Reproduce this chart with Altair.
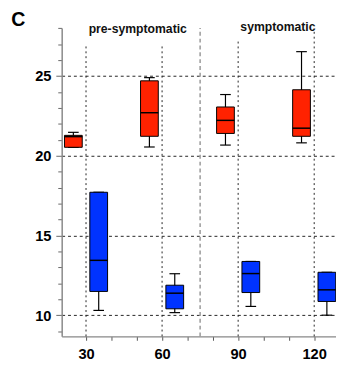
import altair as alt
import pandas as pd

# ---- data ----
days = [30, 60, 90, 120]
series = ["red", "blue"]
offsets = [-5, 5]

red_min = [20.53, 20.55, 20.67, 20.81]
red_q1 = [20.53, 21.22, 21.40, 21.22]
red_med = [21.20, 22.70, 22.22, 21.73]
red_q3 = [21.28, 24.70, 23.06, 24.14]
red_max = [21.47, 24.90, 23.84, 26.53]

blue_min = [10.30, 10.16, 10.55, 10.00]
blue_q1 = [11.49, 10.40, 11.42, 10.86]
blue_med = [13.44, 11.38, 12.61, 11.59]
blue_q3 = [17.71, 11.88, 13.37, 12.69]
blue_max = [17.71, 12.60, 13.37, 12.69]

group_labels = ["pre-symptomatic", "symptomatic"]
group_label_x = [50.4, 105.7]
group_label_y = [27.93, 28.05]
separator_x = [75]
vgrid_x = [30, 60, 90, 120]
vgrid_top = [27.0, 27.0, 27.2, 27.8]

x_domain = [20.4, 128.6]
y_domain = [8.67, 28.02]
x_ticks = [30, 40, 50, 60, 70, 80, 90, 100, 110, 120]
y_ticks = list(range(9, 29))

FONT = "Liberation Sans"
RED = "#FF2200"
BLUE = "#0033FF"

rows = []
for s, off, mn, q1, md, q3, mx in [
    ("red", offsets[0], red_min, red_q1, red_med, red_q3, red_max),
    ("blue", offsets[1], blue_min, blue_q1, blue_med, blue_q3, blue_max),
]:
    for i, d in enumerate(days):
        rows.append(dict(series=s, day=d, off=off, mn=mn[i], q1=q1[i], med=md[i], q3=q3[i], mx=mx[i]))
box_df = pd.DataFrame(rows)

xs = alt.Scale(domain=x_domain, nice=False, zero=False)
ys = alt.Scale(domain=y_domain, nice=False, zero=False)

x_axis = alt.Axis(
    values=x_ticks,
    labelExpr="datum.value % 30 === 0 ? datum.label : ''",
    title=None, grid=False, tickSize=4, tickColor="#555", domainColor="#888", domainWidth=1.5,
    labelFont=FONT, labelFontSize=15, labelFontWeight="bold", labelColor="black",
    labelPadding=7, labelOverlap=False, labelFlush=False,
)
y_axis = alt.Axis(
    values=y_ticks,
    labelExpr="datum.value % 5 === 0 ? datum.label : ''",
    title=None, grid=True,
    gridOpacity={"condition": {"test": "datum.value % 5 === 0", "value": 1}, "value": 0},
    gridDash=[3, 3], gridColor="#222", gridWidth=1,
    tickSize={"condition": {"test": "datum.value % 5 === 0", "value": 6}, "value": 4},
    tickColor="#666", domainColor="#888", domainWidth=1.5,
    labelFont=FONT, labelFontSize=15, labelFontWeight="bold", labelColor="black",
    labelPadding=5, labelOverlap=False,
)


def X(f):
    return alt.X(f, scale=xs, axis=x_axis)


def Y(f):
    return alt.Y(f, scale=ys, axis=y_axis)


base = alt.Chart(box_df).transform_calculate(
    pos="datum.day + datum.off",
    bl="datum.day + datum.off - 3.5",
    br="datum.day + datum.off + 3.5",
    cl="datum.day + datum.off - 2.1",
    cr="datum.day + datum.off + 2.1",
)

color = alt.Color("series:N", scale=alt.Scale(domain=series, range=[RED, BLUE]), legend=None)

vgrid = alt.Chart(pd.DataFrame({"x": vgrid_x, "top": vgrid_top, "bot": [y_domain[0]] * 4})).mark_rule(
    color="#222", strokeDash=[2, 3], strokeWidth=1
).encode(x=X("x:Q"), y=Y("bot:Q"), y2="top:Q")

sep = alt.Chart(pd.DataFrame({"x": separator_x, "bot": [y_domain[0]], "top": [y_domain[1]]})).mark_rule(
    color="#999", strokeDash=[4, 3], strokeWidth=1.5
).encode(x=X("x:Q"), y=Y("bot:Q"), y2="top:Q")

whisk = base.mark_rule(color="black", strokeWidth=1.2).encode(x=X("pos:Q"), y=Y("mn:Q"), y2="mx:Q")
cap_lo = base.mark_rule(color="black", strokeWidth=1.2).encode(x=X("cl:Q"), x2="cr:Q", y=Y("mn:Q"))
cap_hi = base.mark_rule(color="black", strokeWidth=1.2).encode(x=X("cl:Q"), x2="cr:Q", y=Y("mx:Q"))
boxes = base.mark_bar(stroke="black", strokeWidth=1, opacity=1).encode(
    x=X("bl:Q"), x2="br:Q", y=Y("q1:Q"), y2="q3:Q", fill=color
)
med = base.mark_rule(color="black", strokeWidth=1.5).encode(x=X("bl:Q"), x2="br:Q", y=Y("med:Q"))

labels = alt.Chart(pd.DataFrame({"t": group_labels, "x": group_label_x, "y": group_label_y})).mark_text(
    font=FONT, fontSize=12.5, fontWeight="bold", color="#111", baseline="middle", align="center"
).encode(x=X("x:Q"), y=Y("y:Q"), text="t:N")

panel = alt.Chart(pd.DataFrame({"t": ["C"]})).mark_text(
    font=FONT, fontSize=20, fontWeight="bold", color="black", baseline="middle", align="center"
).encode(x=alt.value(-44.5), y=alt.value(-8), text="t:N")

chart = alt.layer(vgrid, sep, whisk, cap_lo, cap_hi, boxes, med, labels, panel).properties(
    width=281, height=316,
    padding={"left": 55, "top": 16, "right": 0, "bottom": 28},
    autosize=alt.AutoSizeParams(type="none"),
).configure_view(stroke=None)

chart.save("out.html", embed_options={"renderer": "svg", "actions": False})
